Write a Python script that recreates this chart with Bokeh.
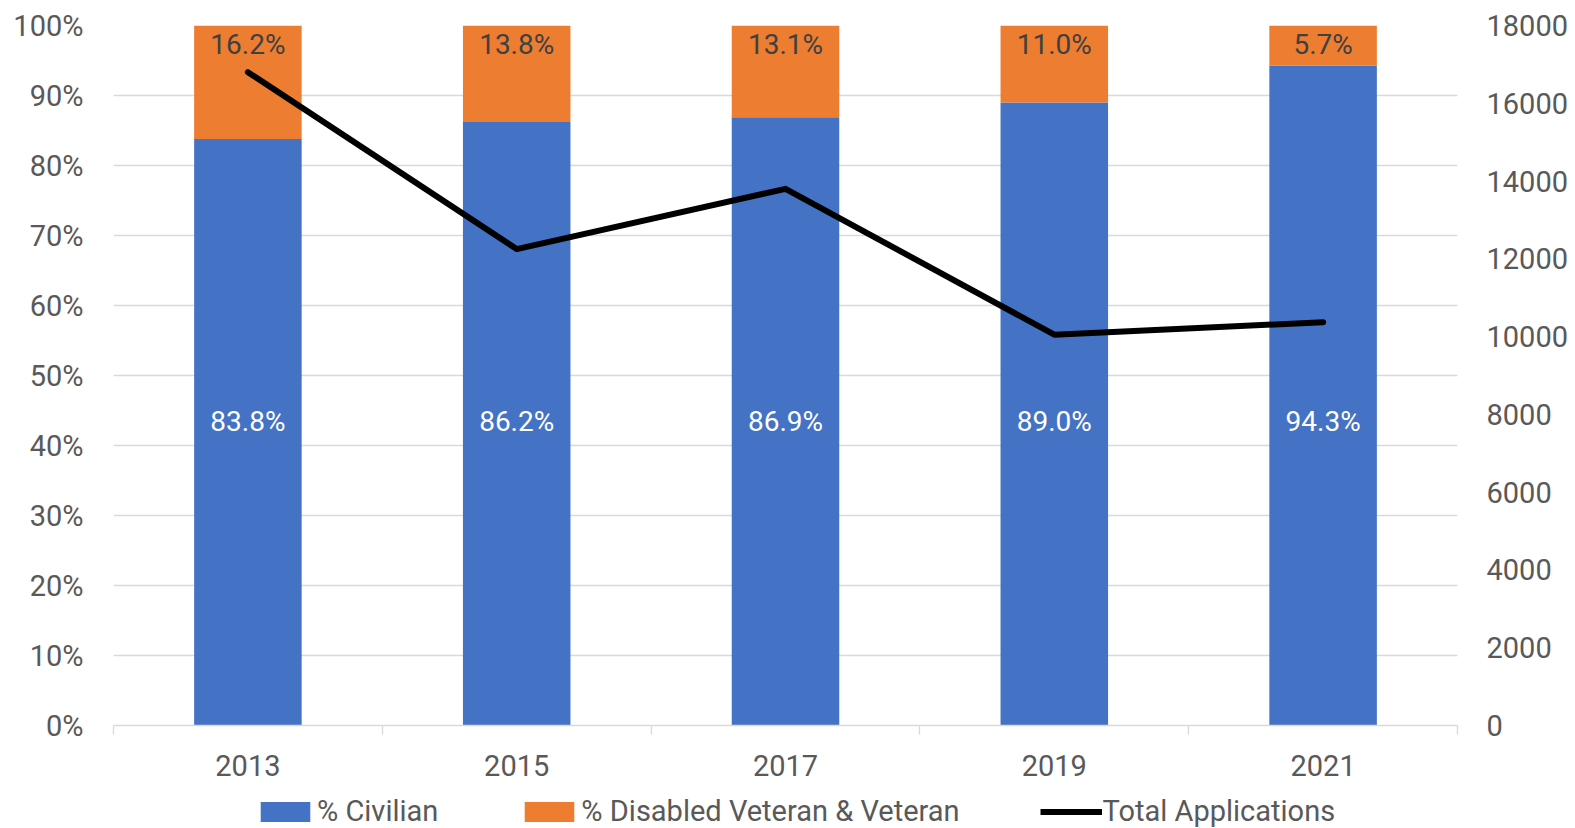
from bokeh.plotting import figure
from bokeh.layouts import column
from bokeh.models import (Range1d, LinearAxis, FixedTicker, PrintfTickFormatter,
                          Legend, LegendItem, ColumnDataSource)
from bokeh.core.properties import value
from bokeh.embed import file_html
from bokeh.resources import INLINE

# ---- data ----
years = ["2013", "2015", "2017", "2019", "2021"]
civilian = [83.8, 86.2, 86.9, 89.0, 94.3]
veteran = [16.2, 13.8, 13.1, 11.0, 5.7]
total_apps = [16800, 12250, 13800, 10050, 10370]
pct_ticks = [0, 10, 20, 30, 40, 50, 60, 70, 80, 90, 100]
app_ticks = [0, 2000, 4000, 6000, 8000, 10000, 12000, 14000, 16000, 18000]
series_names = ["% Civilian", "% Disabled Veteran & Veteran", "Total Applications"]

FONT = "Roboto"
BLUE = "#4472C4"
ORANGE = "#ED7D31"
GRAY_TXT = "#595959"
GRID = "#d9d9d9"
CIV_LABEL_LEVEL = 43.4   # style: vertical level of the white labels (in % units)
W = 1575
MAIN_H = 787
LEG_H = 41
NAN = float("nan")

xs = [i + 0.5 for i in range(len(years))]
tops = [c + v for c, v in zip(civilian, veteran)]
src = ColumnDataSource(dict(
    x=xs, civ=civilian, vet=veteran, top=tops,
    civ_lbl=[f"{c:.1f}%" for c in civilian],
    vet_lbl=[f"{v:.1f}%" for v in veteran],
    apps=total_apps,
))

p = figure(width=W, height=MAIN_H, output_backend="svg", toolbar_location=None,
           x_range=Range1d(0, len(years)), y_range=Range1d(0, 100),
           min_border_left=113, min_border_right=118, min_border_top=25,
           min_border_bottom=MAIN_H - 725, outline_line_color=None)
p.extra_y_ranges = {"apps": Range1d(0, 18000)}

# bars
p.vbar(x="x", bottom=0, top="civ", width=0.4, source=src,
       fill_color=BLUE, line_color=None)
p.vbar(x="x", bottom="civ", top="top", width=0.4, source=src,
       fill_color=ORANGE, line_color=None)

# line
p.line(x="x", y="apps", source=src, y_range_name="apps",
       line_color="black", line_width=6, line_cap="round", line_join="round")

# data labels
p.text(x="x", y=CIV_LABEL_LEVEL, text="civ_lbl", source=src, text_font=value(FONT),
       text_font_size="28px", text_color="white", text_align="center",
       text_baseline="middle")
p.text(x="x", y="top", text="vet_lbl", source=src, text_font=value(FONT),
       text_font_size="28px", text_color="#404040", text_align="center",
       text_baseline="middle", y_offset=19)

# left axis
ya = p.yaxis[0]
ya.ticker = FixedTicker(ticks=pct_ticks)
ya.formatter = PrintfTickFormatter(format="%d%%")
ya.axis_line_color = None
ya.major_tick_line_color = None
ya.major_tick_out = 0
ya.minor_tick_line_color = None
ya.major_label_text_font = FONT
ya.major_label_text_font_size = "29px"
ya.major_label_text_color = GRAY_TXT
ya.major_label_standoff = 30

# right axis
ra = LinearAxis(y_range_name="apps", ticker=FixedTicker(ticks=app_ticks),
                formatter=PrintfTickFormatter(format="%d"))
ra.axis_line_color = None
ra.major_tick_line_color = None
ra.major_tick_out = 0
ra.minor_tick_line_color = None
ra.major_label_text_font = FONT
ra.major_label_text_font_size = "29px"
ra.major_label_text_color = GRAY_TXT
ra.major_label_standoff = 29
p.add_layout(ra, "right")

# x axis
xa = p.xaxis[0]
xa.ticker = FixedTicker(ticks=xs, minor_ticks=list(range(len(years) + 1)))
xa.major_label_overrides = {x: y for x, y in zip(xs, years)}
xa.major_tick_line_color = None
xa.major_tick_out = 0
xa.major_tick_in = 0
xa.minor_tick_line_color = GRID
xa.minor_tick_line_width = 1.3
xa.minor_tick_out = 9
xa.minor_tick_in = 0
xa.axis_line_color = GRID
xa.axis_line_width = 1.3
xa.major_label_text_font = FONT
xa.major_label_text_font_size = "29px"
xa.major_label_text_color = GRAY_TXT
xa.major_label_standoff = 20

# grid
p.xgrid.grid_line_color = None
p.ygrid.ticker = FixedTicker(ticks=pct_ticks)
p.ygrid.grid_line_color = GRID
p.ygrid.grid_line_width = 1.3

# ---- legend strip (separate figure below the chart, no data drawn) ----
lf = figure(width=W, height=LEG_H, output_backend="svg", toolbar_location=None,
            x_range=Range1d(0, 1), y_range=Range1d(0, 1),
            x_axis_location=None, y_axis_location=None,
            min_border=0, min_border_left=0, min_border_right=0,
            min_border_top=0, min_border_bottom=0, outline_line_color=None)
lf.grid.visible = False
r_civ = lf.vbar(x=[NAN], top=[NAN], width=0.1, fill_color=BLUE, line_color=None)
r_vet = lf.vbar(x=[NAN], top=[NAN], width=0.1, fill_color=ORANGE, line_color=None)
r_line = lf.line(x=[NAN], y=[NAN], line_color="black", line_width=6, line_cap="butt")

legend = Legend(items=[
    LegendItem(label=series_names[0], renderers=[r_civ]),
    LegendItem(label=series_names[1], renderers=[r_vet]),
    LegendItem(label=series_names[2], renderers=[r_line]),
], orientation="horizontal", location=(141, 0),
    glyph_width=62, glyph_height=25, label_standoff=1, spacing=80,
    padding=0, margin=0, border_line_color=None, background_fill_alpha=0,
    label_text_font=FONT, label_text_font_size="29px", label_text_color=GRAY_TXT)
lf.add_layout(legend, "center")

layout = column(p, lf, spacing=0)
open("out.html", "w").write(file_html(layout, INLINE))
